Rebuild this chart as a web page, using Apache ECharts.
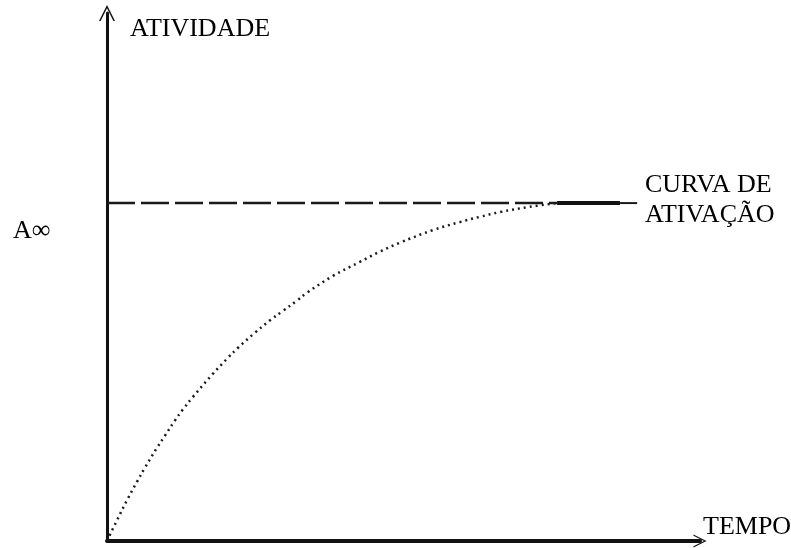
<!DOCTYPE html>
<html>
<head>
<meta charset="utf-8">
<script src="https://cdn.jsdelivr.net/npm/echarts@6/dist/echarts.min.js"></script>
<style>
  html, body { margin: 0; padding: 0; background: #fff; }
  #chart { width: 791px; height: 548px; }
</style>
</head>
<body>
<div id="chart"></div>
<script>
// Activation curve: activity rising toward the saturation level A∞
const curveTime = [0, 1.5, 3.5, 5.1, 6.4, 8.4, 9.8, 11.5, 12.8, 14.5, 17.8, 20.4, 22.1, 24.9, 27.5, 29.7, 32.0, 33.7, 38.1, 42.7, 46.0, 49.4, 55.0, 59.5, 62.9, 66.3, 71.3, 75.9];
const curveActivity = [0, 3.5, 8.0, 11.3, 13.9, 17.6, 20.0, 22.9, 24.9, 27.3, 31.6, 34.7, 36.6, 39.4, 41.8, 43.6, 45.5, 47.0, 50.2, 52.9, 54.8, 56.5, 58.9, 60.4, 61.4, 62.3, 63.3, 64.0];

// Saturation level and the stretches of its horizontal line
const saturationLevel = 64;
const dashedSpan = [0, 75.9];
const heavySpan = [75.9, 86.5];
const thinSpan = [86.5, 89.4];

const axisTitleY = 'ATIVIDADE';
const axisTitleX = 'TEMPO';
const levelLabel = 'A∞';
const curveLabel = ['CURVA DE', 'ATIVAÇÃO'];

const ink = '#000';
const serif = '26px "Liberation Serif", "DejaVu Serif", serif';
const chevron = 'path://M0,10 L5,0 L10,10 L9,10 L5,2 L1,10 Z';

const pairs = (xs, ys) => xs.map((x, i) => [x, ys[i]]);
const flat = (span) => span.map(x => [x, saturationLevel]);

const chart = echarts.init(document.getElementById('chart'), null, { renderer: 'canvas' });
chart.setOption({
  animation: false,
  backgroundColor: '#fff',
  grid: { left: 107, right: 91, top: 13, bottom: 7, containLabel: false },
  xAxis: {
    type: 'value', min: 0, max: 100,
    axisLine: { show: true, lineStyle: { color: '#111', width: 4 }, symbol: ['none', chevron], symbolSize: [18, 13] },
    axisTick: { show: false }, axisLabel: { show: false }, splitLine: { show: false }
  },
  yAxis: {
    type: 'value', min: 0, max: 100,
    axisLine: { show: true, lineStyle: { color: '#111', width: 3 }, symbol: ['none', chevron], symbolSize: [18, 16] },
    axisTick: { show: false }, axisLabel: { show: false }, splitLine: { show: false }
  },
  series: [
    {
      type: 'line', data: pairs(curveTime, curveActivity), smooth: 0.4, symbol: 'none',
      lineStyle: { color: '#1a1a1a', width: 2.5, type: [2, 4] }
    },
    {
      type: 'line', data: flat(dashedSpan), symbol: 'none',
      lineStyle: { color: '#1a1a1a', width: 2.5, type: [28, 6] }
    },
    {
      type: 'line', data: flat(heavySpan), symbol: 'none',
      lineStyle: { color: '#111', width: 4 }
    },
    {
      type: 'line', data: flat(thinSpan), symbol: 'none',
      lineStyle: { color: '#1a1a1a', width: 2 }
    }
  ],
  graphic: [
    { type: 'text', x: 130, y: 29, style: { text: axisTitleY, font: serif, fill: ink, verticalAlign: 'middle' } },
    { type: 'text', x: 703, y: 527, style: { text: axisTitleX, font: serif, fill: ink, verticalAlign: 'middle' } },
    { type: 'text', x: 13, y: 231, style: { text: levelLabel, font: serif, fill: ink, verticalAlign: 'middle' } },
    { type: 'text', x: 645, y: 185, style: { text: curveLabel[0], font: serif, fill: ink, verticalAlign: 'middle' } },
    { type: 'text', x: 645, y: 215, style: { text: curveLabel[1], font: serif, fill: ink, verticalAlign: 'middle' } }
  ]
});
</script>
</body>
</html>
